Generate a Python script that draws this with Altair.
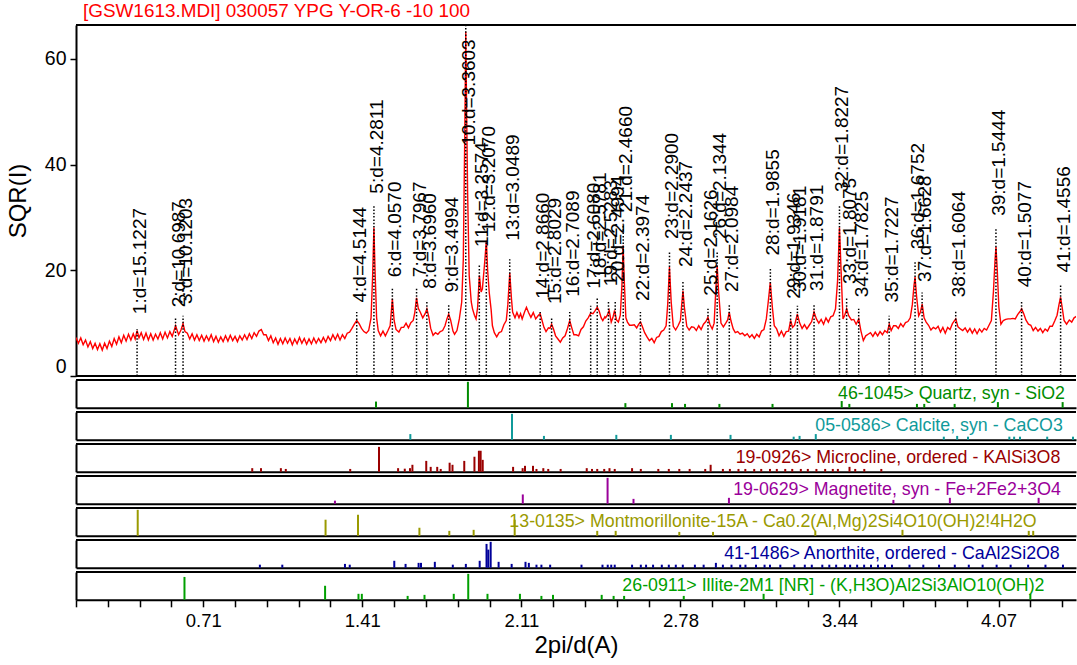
import math
import altair as alt
import pandas as pd

FONT = "Liberation Sans"
LAMBDA = 1.5406  # Cu K-alpha wavelength, angstrom

TITLE = "[GSW1613.MDI] 030057 YPG Y-OR-6 -10 100"

# Scan: (2-theta in degrees, square root of counts)
PATTERN = [
    (2.00, 7.3), (2.15, 6.2), (2.30, 7.2), (2.45, 5.9), (2.60, 6.8), (2.75, 5.5), (2.90, 6.5),
    (3.05, 5.2), (3.20, 6.2), (3.35, 5.0), (3.50, 6.1), (3.65, 4.9), (3.80, 6.2), (3.95, 5.2),
    (4.10, 6.6), (4.25, 5.6), (4.40, 7.1), (4.55, 6.0), (4.70, 7.4), (4.85, 6.3), (5.00, 7.7),
    (5.15, 6.6), (5.30, 7.9), (5.45, 6.8), (5.60, 8.0), (5.72, 7.0), (5.84, 8.6), (5.96, 7.2),
    (6.10, 8.2), (6.25, 6.9), (6.40, 8.1), (6.55, 6.8), (6.70, 8.0), (6.85, 6.8), (7.00, 7.9),
    (7.15, 7.0), (7.30, 8.2), (7.45, 7.0), (7.60, 8.3), (7.75, 7.2), (7.90, 8.4), (8.05, 7.5),
    (8.26, 9.5), (8.45, 7.8), (8.60, 8.7), (8.73, 9.9), (8.85, 8.4), (9.00, 8.1), (9.15, 7.0),
    (9.30, 8.0), (9.45, 6.8), (9.60, 7.8), (9.75, 6.7), (9.90, 7.7), (10.05, 6.6), (10.20, 7.6),
    (10.35, 6.7), (10.50, 7.8), (10.65, 6.5), (10.80, 7.5), (10.95, 6.4), (11.10, 7.4),
    (11.25, 6.5), (11.40, 7.6), (11.55, 6.6), (11.70, 7.7), (11.85, 6.7), (12.00, 7.5),
    (12.15, 6.5), (12.30, 7.6), (12.45, 6.8), (12.60, 7.8), (12.75, 6.9), (12.90, 8.0),
    (13.05, 7.1), (13.20, 8.2), (13.35, 7.5), (13.50, 8.5), (13.65, 8.8), (13.80, 7.8),
    (13.95, 7.8), (14.10, 6.7), (14.25, 7.6), (14.40, 6.3), (14.55, 7.2), (14.70, 6.0),
    (14.85, 7.1), (15.00, 6.1), (15.15, 7.2), (15.30, 6.2), (15.45, 7.1), (15.60, 5.9),
    (15.75, 7.0), (15.90, 6.1), (16.05, 7.3), (16.20, 6.2), (16.35, 7.1), (16.50, 6.0),
    (16.65, 7.0), (16.80, 6.1), (16.95, 7.2), (17.10, 6.2), (17.25, 7.1), (17.40, 6.3),
    (17.55, 7.3), (17.70, 6.4), (17.85, 7.5), (18.00, 6.7), (18.15, 7.8), (18.30, 6.9),
    (18.45, 7.9), (18.60, 6.8), (18.75, 7.8), (18.90, 7.1), (19.05, 8.1), (19.20, 8.3),
    (19.35, 9.0), (19.50, 9.8), (19.65, 10.5), (19.80, 9.9), (19.95, 9.0), (20.10, 8.4),
    (20.25, 8.1), (20.40, 8.6), (20.55, 11.0), (20.65, 19.0), (20.73, 28.1), (20.80, 20.0),
    (20.90, 11.0), (21.00, 8.6), (21.15, 7.6), (21.30, 8.5), (21.45, 7.6), (21.60, 8.5),
    (21.75, 9.5), (21.89, 14.6), (22.00, 10.5), (22.12, 8.8), (22.30, 8.3), (22.45, 9.2),
    (22.60, 9.2), (22.75, 10.0), (22.90, 9.1), (23.05, 10.1), (23.20, 10.5), (23.30, 12.0),
    (23.41, 14.8), (23.52, 12.8), (23.64, 12.1), (23.80, 11.0), (23.95, 11.8), (24.06, 12.7),
    (24.18, 11.2), (24.30, 9.0), (24.45, 7.7), (24.60, 8.2), (24.75, 7.9), (24.90, 8.4),
    (25.05, 8.6), (25.20, 9.5), (25.32, 10.8), (25.43, 11.7), (25.55, 10.6), (25.70, 8.5),
    (25.80, 7.9), (25.95, 8.6), (26.10, 10.8), (26.25, 14.0), (26.35, 22.1), (26.44, 45.0),
    (26.505, 65.1), (26.56, 50.0), (26.62, 34.8), (26.72, 19.0), (26.85, 14.0), (26.93, 12.7),
    (27.05, 11.5), (27.15, 10.8), (27.25, 13.0), (27.36, 19.0), (27.47, 15.9), (27.55, 16.5),
    (27.68, 21.0), (27.80, 25.6), (27.88, 20.0), (27.98, 15.8), (28.10, 12.5), (28.18, 9.5),
    (28.30, 8.2), (28.45, 7.4), (28.60, 8.2), (28.75, 8.4), (28.90, 9.7), (29.05, 10.5),
    (29.15, 13.5), (29.27, 19.5), (29.38, 14.5), (29.45, 12.1), (29.60, 11.0), (29.72, 12.0),
    (29.85, 11.0), (29.95, 11.8), (30.05, 10.8), (30.20, 12.1), (30.32, 13.0), (30.45, 12.0),
    (30.60, 11.1), (30.75, 12.0), (30.90, 10.8), (31.05, 11.4), (31.18, 11.8), (31.30, 10.5),
    (31.42, 9.2), (31.55, 8.4), (31.70, 9.1), (31.80, 9.0), (31.90, 9.8), (32.02, 8.9),
    (32.15, 7.6), (32.30, 7.0), (32.45, 6.4), (32.60, 7.2), (32.75, 7.6), (32.90, 9.0),
    (33.04, 10.5), (33.16, 9.2), (33.30, 7.8), (33.45, 7.8), (33.60, 7.6), (33.75, 8.8),
    (33.90, 9.3), (34.05, 10.4), (34.20, 11.0), (34.36, 11.9), (34.50, 11.8), (34.65, 12.4),
    (34.77, 13.0), (34.90, 12.2), (35.02, 11.0), (35.12, 10.5), (35.25, 11.2), (35.30, 11.0),
    (35.42, 11.6), (35.52, 12.4), (35.65, 10.2), (35.75, 11.0), (35.86, 12.4), (35.98, 10.6),
    (36.10, 10.2), (36.22, 11.5), (36.32, 17.0), (36.40, 24.7), (36.47, 18.0), (36.57, 11.0),
    (36.67, 10.2), (36.80, 9.6), (36.95, 9.6), (37.10, 9.7), (37.25, 9.1), (37.38, 9.8),
    (37.49, 10.2), (37.60, 9.4), (37.75, 8.2), (37.90, 7.4), (38.05, 6.7), (38.20, 7.1),
    (38.35, 6.3), (38.50, 7.3), (38.65, 7.5), (38.80, 8.4), (38.95, 8.7), (39.10, 9.5),
    (39.20, 13.5), (39.31, 20.6), (39.42, 14.0), (39.55, 9.4), (39.70, 8.7), (39.85, 9.5),
    (40.00, 10.5), (40.08, 13.5), (40.16, 16.1), (40.25, 13.0), (40.40, 9.4), (40.55, 8.7),
    (40.70, 9.3), (40.85, 9.2), (41.00, 8.6), (41.15, 9.5), (41.30, 8.8), (41.45, 9.8),
    (41.60, 10.3), (41.73, 11.1), (41.85, 9.8), (42.00, 8.9), (42.12, 10.0), (42.22, 16.0),
    (42.31, 20.9), (42.40, 16.0), (42.55, 10.0), (42.70, 9.3), (42.85, 10.0), (42.97, 10.6),
    (43.07, 12.1), (43.18, 10.4), (43.32, 8.9), (43.45, 8.2), (43.60, 8.4), (43.75, 7.9),
    (43.90, 8.1), (44.05, 7.6), (44.20, 8.0), (44.35, 7.3), (44.50, 7.8), (44.65, 7.1),
    (44.80, 7.9), (44.95, 7.4), (45.10, 8.5), (45.25, 8.8), (45.40, 10.8), (45.52, 14.0),
    (45.65, 17.7), (45.78, 13.0), (45.90, 9.5), (46.05, 8.9), (46.20, 7.6), (46.35, 8.5),
    (46.50, 7.5), (46.65, 8.4), (46.80, 8.5), (46.93, 10.5), (47.05, 9.2), (47.18, 9.6),
    (47.35, 11.7), (47.50, 10.0), (47.65, 9.0), (47.80, 9.7), (47.95, 8.9), (48.10, 9.6),
    (48.25, 10.3), (48.40, 12.1), (48.55, 10.8), (48.70, 10.0), (48.85, 10.7), (49.00, 9.8),
    (49.15, 11.0), (49.30, 10.2), (49.45, 11.2), (49.60, 11.4), (49.75, 12.7), (49.88, 18.0),
    (50.00, 28.1), (50.10, 20.0), (50.22, 10.8), (50.33, 11.5), (50.45, 12.7), (50.58, 11.4),
    (50.75, 10.6), (50.90, 10.7), (51.05, 9.8), (51.21, 10.8), (51.35, 8.5), (51.50, 6.7),
    (51.65, 7.6), (51.80, 7.9), (51.95, 8.2), (52.10, 7.5), (52.25, 8.3), (52.40, 7.6),
    (52.55, 8.4), (52.70, 7.8), (52.85, 8.6), (53.00, 8.2), (53.13, 9.8), (53.25, 8.6),
    (53.40, 9.5), (53.55, 9.5), (53.70, 9.0), (53.85, 9.9), (54.00, 9.3), (54.15, 10.1),
    (54.30, 10.3), (54.45, 11.0), (54.58, 13.5), (54.68, 17.0), (54.75, 18.7), (54.85, 15.0),
    (54.98, 11.4), (55.08, 12.0), (55.20, 13.6), (55.32, 11.0), (55.45, 10.2), (55.60, 9.6),
    (55.75, 8.7), (55.90, 9.2), (56.05, 8.9), (56.20, 9.4), (56.35, 8.3), (56.50, 9.2),
    (56.65, 8.1), (56.80, 9.2), (56.95, 8.8), (57.10, 9.9), (57.31, 10.8), (57.45, 9.3),
    (57.60, 8.9), (57.75, 8.6), (57.90, 9.1), (58.05, 8.3), (58.20, 9.0), (58.35, 8.1),
    (58.50, 8.9), (58.65, 8.0), (58.80, 8.9), (58.95, 8.3), (59.10, 9.0), (59.25, 8.7),
    (59.40, 9.6), (59.55, 10.5), (59.68, 16.0), (59.78, 22.0), (59.84, 24.4), (59.92, 20.0),
    (60.02, 13.0), (60.15, 9.8), (60.30, 10.5), (60.45, 10.7), (60.60, 10.8), (60.75, 10.8),
    (60.90, 10.9), (61.05, 10.8), (61.20, 11.6), (61.35, 12.2), (61.45, 12.7), (61.58, 11.8),
    (61.72, 10.6), (61.88, 9.8), (62.03, 9.6), (62.18, 8.6), (62.33, 9.2), (62.48, 8.5),
    (62.63, 9.0), (62.78, 8.2), (62.93, 8.9), (63.08, 8.5), (63.23, 9.4), (63.38, 9.4),
    (63.53, 10.4), (63.68, 11.5), (63.80, 13.5), (63.90, 14.9), (64.00, 13.0), (64.12, 10.5),
    (64.28, 9.8), (64.45, 10.6), (64.60, 10.2), (64.75, 11.0), (64.95, 11.4),
]

# Peak search results: d-spacings (angstrom)
PEAK_D = [15.1227, 10.6987, 10.1203, 4.5144, 4.2811, 4.0570, 3.7967, 3.6960, 3.4994,
          3.3603, 3.2574, 3.2070, 3.0489, 2.8660, 2.8029, 2.7089, 2.6080, 2.5781,
          2.5283, 2.4994, 2.4660, 2.3974, 2.2900, 2.2437, 2.1626, 2.1344, 2.0984,
          1.9855, 1.9346, 1.9181, 1.8791, 1.8227, 1.8075, 1.7825, 1.7227, 1.6752,
          1.6628, 1.6064, 1.5444, 1.5077, 1.4556]
# top of each dotted marker line (SQR(I) units)
LINE_TOP = [8.9, 11.2, 11.4, 12.1, 32.2, 16.5, 16.5, 14.3, 13.4, 66.4, 21.2, 25.6, 22.1,
            12.1, 11.1, 12.1, 13.3, 14.9, 14.3, 14.3, 28.8, 12.1, 23.7, 18.0, 12.7, 23.5,
            13.6, 20.3, 12.1, 13.3, 13.6, 32.2, 14.9, 12.7, 11.4, 21.5, 15.8, 12.4, 27.8,
            14.3, 17.4]
# where each peak label starts (SQR(I) units)
LABEL_AT = [11.7, 13.0, 13.6, 13.9, 34.5, 18.7, 18.7, 16.5, 15.8, 43.6, 24.4, 27.2, 25.6,
            14.6, 13.6, 15.0, 16.5, 18.4, 17.0, 17.8, 31.0, 14.2, 25.9, 20.6, 15.2, 25.9,
            15.9, 22.8, 14.6, 15.9, 16.1, 34.8, 17.4, 14.9, 13.9, 24.0, 17.8, 14.9, 30.3,
            16.8, 19.6]

# Reference cards: stick positions (2-theta) and relative heights (%)
QUARTZ_POS = [20.86, 26.64, 36.54, 39.47, 40.29, 42.45, 45.79, 50.14, 50.62, 54.87, 55.33,
              57.24, 59.96, 64.03]
QUARTZ_H = [24, 100, 18, 18, 15, 15, 15, 26, 15, 15, 15, 15, 22, 22]

CALCITE_POS = [23.02, 29.41, 31.42, 35.97, 39.40, 43.15, 47.12, 47.49, 48.51, 56.56, 57.40,
               58.08, 60.68, 60.98, 61.35, 63.06, 64.68]
CALCITE_H = [22, 100, 15, 19, 19, 19, 12, 15, 22, 12, 15, 12, 12, 12, 12, 12, 12]

MICROCLINE_POS = [13.08, 13.63, 14.88, 15.19, 19.24, 21.05, 22.25, 22.67, 23.00, 23.15,
                  24.02, 24.30, 24.71, 24.93, 25.49, 25.67, 26.41, 27.05, 27.33, 27.44,
                  27.57, 29.48, 30.08, 30.23, 30.73, 30.95, 31.38, 31.69, 32.47, 34.11,
                  34.44, 34.77, 35.21, 35.54, 35.87, 36.96, 37.51, 38.61, 39.27, 39.93,
                  40.58, 41.56, 41.90, 42.67, 43.11, 43.65, 44.08, 44.64, 45.08, 45.63,
                  46.06, 46.59, 47.03, 47.57, 48.01, 48.55, 49.10, 49.58, 49.90, 50.63,
                  50.99, 51.56, 52.63]
MICROCLINE_H = [14, 14, 14, 11, 11, 96, 14, 12, 14, 27, 42, 19, 19, 11, 35, 27, 42, 58, 81,
                81, 46, 19, 14, 23, 23, 11, 14, 11, 11, 14, 11, 11, 11, 14, 11, 14, 11, 11,
                11, 11, 11, 11, 27, 11, 11, 11, 11, 11, 11, 11, 11, 11, 11, 11, 11, 11, 11,
                11, 11, 19, 11, 11, 11]

MAGNETITE_POS = [18.28, 30.09, 35.42, 37.05, 43.05, 53.39, 56.94, 62.52]
MAGNETITE_H = [12, 36, 100, 19, 23, 15, 23, 23]

MONTMOR_POS = [5.88, 17.69, 19.73, 23.59, 25.47, 27.00, 29.58, 34.77, 35.93, 39.93, 42.05,
               48.48, 53.96, 61.90, 62.18]
MONTMOR_H = [100, 62, 81, 31, 19, 23, 62, 19, 19, 15, 15, 19, 23, 19, 19]

ANORTHITE_POS = [13.56, 14.97, 18.91, 19.21, 22.01, 22.72, 23.54, 23.69, 24.56, 25.69, 26.51,
                 27.38, 27.81, 27.92, 28.07, 28.57, 29.39, 30.26, 30.47, 30.95, 31.26, 31.81,
                 33.78, 35.10, 35.43, 35.65, 35.87, 36.96, 37.51, 37.84, 38.28, 38.83, 39.27,
                 39.71, 40.15, 40.91, 41.46, 42.23, 42.67, 43.21, 43.76, 44.09, 44.75, 45.29,
                 45.63, 46.28, 47.16, 47.82, 48.26, 48.92, 49.36, 49.79, 50.34, 50.67, 51.11,
                 51.55, 51.98, 52.42, 52.86, 53.30, 54.40, 55.27, 56.26, 57.25, 58.13, 59.00,
                 59.88, 60.76, 61.86, 62.95, 64.05]
ANORTHITE_H = [12, 12, 15, 12, 27, 15, 19, 19, 23, 12, 15, 27, 92, 70, 100, 23, 15, 23, 19, 12,
               12, 12, 12, 12, 12, 12, 12, 12, 12, 12, 12, 12, 12, 12, 12, 12, 12, 19, 12, 12,
               12, 12, 12, 12, 12, 12, 12, 12, 12, 12, 12, 12, 12, 12, 12, 12, 12, 12, 12, 12,
               12, 12, 12, 12, 12, 12, 12, 12, 12, 12, 12]

ILLITE_POS = [8.82, 17.66, 19.76, 19.97, 22.85, 23.91, 25.75, 26.66, 27.87, 29.91, 31.26,
              31.99, 35.05, 35.80, 36.46, 40.21, 45.23, 62.00]
ILLITE_H = [88, 54, 23, 23, 15, 19, 23, 100, 23, 23, 15, 19, 19, 15, 15, 15, 23, 23]

# name, colour, sticks, heights, 2-theta at the centre of the card name
PHASES = [
    ("46-1045> Quartz, syn - SiO2", "#008c00", QUARTZ_POS, QUARTZ_H, 57.04),
    ("05-0586> Calcite, syn - CaCO3", "#109a9a", CALCITE_POS, CALCITE_H, 56.26),
    ("19-0926> Microcline, ordered - KAlSi3O8", "#9a0000", MICROCLINE_POS, MICROCLINE_H, 53.68),
    ("19-0629> Magnetite, syn - Fe+2Fe2+3O4", "#9a009a", MAGNETITE_POS, MAGNETITE_H, 53.62),
    ("13-0135> Montmorillonite-15A - Ca0.2(Al,Mg)2Si4O10(OH)2!4H2O", "#9a9a00",
     MONTMOR_POS, MONTMOR_H, 45.82),
    ("41-1486> Anorthite, ordered - CaAl2Si2O8", "#00009a", ANORTHITE_POS, ANORTHITE_H, 53.30),
    ("26-0911> Illite-2M1 [NR] - (K,H3O)Al2Si3AlO10(OH)2", "#00a000", ILLITE_POS, ILLITE_H, 49.62),
]

# Bottom axis: ticks in 2-theta, labelled as 2pi/d
TICK_TT = list(range(2, 65, 2))
LABEL_TT = [10, 20, 30, 40, 50, 60]
LABEL_TXT = ["0.71", "1.41", "2.11", "2.78", "3.44", "4.07"]

X_MIN, X_MAX = 2.0, 64.87
W = 1000
MAIN_H = 351
STRIP_H = 27.8


def two_theta(d):
    return 2 * math.degrees(math.asin(LAMBDA / (2 * d)))


xscale = alt.Scale(domain=[X_MIN, X_MAX], nice=False, zero=False)
yscale = alt.Scale(domain=[0, 66.4], nice=False, zero=False)
one_row = alt.Data(values=[{}])

yaxis = alt.Axis(values=[0, 20, 40, 60], title="SQR(I)", grid=False, domainColor="black",
                 domainWidth=2, tickColor="black", tickWidth=1.5, tickSize=6,
                 labelFont=FONT, labelFontSize=19.5, labelColor="black", labelPadding=4,
                 labelFlush=True, titleFont=FONT, titleFontSize=24, titleFontWeight="normal",
                 titleColor="black", titlePadding=14)

curve_df = pd.DataFrame(PATTERN, columns=["tt", "sqr"])
peaks_df = pd.DataFrame({
    "tt": [two_theta(d) for d in PEAK_D],
    "top": LINE_TOP,
    "lab": LABEL_AT,
    "text": [f"{i + 1}:d={d:.4f}" for i, d in enumerate(PEAK_D)],
    "zero": [0.0] * len(PEAK_D),
})

curve = alt.Chart(curve_df).mark_line(color="#ff0000", strokeWidth=1.4, clip=True).encode(
    x=alt.X("tt:Q", scale=xscale, axis=None),
    y=alt.Y("sqr:Q", scale=yscale, axis=yaxis),
)
drops = alt.Chart(peaks_df).mark_rule(color="black", strokeWidth=1.5, strokeDash=[1.5, 1.8]).encode(
    x=alt.X("tt:Q", scale=xscale, axis=None),
    y=alt.Y("zero:Q", scale=yscale, axis=yaxis),
    y2="top:Q",
)
peak_labels = alt.Chart(peaks_df).mark_text(
    angle=270, align="left", baseline="middle", dy=3, font=FONT, fontSize=19, color="black"
).encode(
    x=alt.X("tt:Q", scale=xscale, axis=None),
    y=alt.Y("lab:Q", scale=yscale, axis=yaxis),
    text="text:N",
)


def hline(ypix, width):
    return alt.Chart(one_row).mark_rule(color="black", strokeWidth=2).encode(
        x=alt.value(0), x2=alt.value(width), y=alt.value(ypix)
    )


main = alt.layer(curve, drops, peak_labels, hline(0, W), hline(MAIN_H, W)).properties(
    width=W, height=MAIN_H,
    title=alt.TitleParams(TITLE, anchor="start", frame="group", color="#ff0000", font=FONT,
                          fontSize=18.9, fontWeight="normal", dx=7, offset=3),
)

label_expr = " : ".join(
    f"datum.value == {t} ? '{s}'" for t, s in zip(LABEL_TT, LABEL_TXT)
) + " : ''"

strips = []
for k, (name, color, pos, hts, anchor) in enumerate(PHASES):
    last = k == len(PHASES) - 1
    if last:
        xaxis = alt.Axis(values=TICK_TT, labelExpr=label_expr, grid=False, domainColor="black",
                         domainWidth=2, tickColor="black", tickWidth=1.5, tickSize=7,
                         labelFont=FONT, labelFontSize=18.5, labelColor="black",
                         labelPadding=5, labelOverlap=False, labelFlush=False,
                         title="2pi/d(A)", titleFont=FONT, titleFontSize=24,
                         titleFontWeight="normal", titleColor="black", titlePadding=3)
    else:
        xaxis = alt.Axis(ticks=False, labels=False, title=None, grid=False,
                         domainColor="black", domainWidth=2)
    saxis = alt.Axis(ticks=False, labels=False, title=None, grid=False,
                     domainColor="black", domainWidth=2)
    sdf = pd.DataFrame({"tt": pos, "h": hts, "zero": [0] * len(pos)})
    sticks = alt.Chart(sdf).mark_rule(color=color, strokeWidth=2).encode(
        x=alt.X("tt:Q", scale=xscale, axis=xaxis),
        y=alt.Y("zero:Q", scale=alt.Scale(domain=[0, 107]), axis=saxis),
        y2="h:Q",
    )
    name_df = pd.DataFrame({"tt": [anchor], "name": [name]})
    name_txt = alt.Chart(name_df).mark_text(
        align="center", baseline="middle", font=FONT, fontSize=17.8, color=color
    ).encode(
        x=alt.X("tt:Q", scale=xscale, axis=xaxis),
        y=alt.value(STRIP_H / 2),
        text="name:N",
    )
    strips.append(
        alt.layer(sticks, name_txt, hline(0, W)).properties(width=W, height=STRIP_H)
    )

chart = alt.vconcat(main, *strips, spacing=2).properties(
    padding={"left": 6, "top": 2, "right": 0, "bottom": 0},
    background="white",
).configure_view(stroke=None)

chart.save("out.html", embed_options={"renderer": "svg", "actions": False})
